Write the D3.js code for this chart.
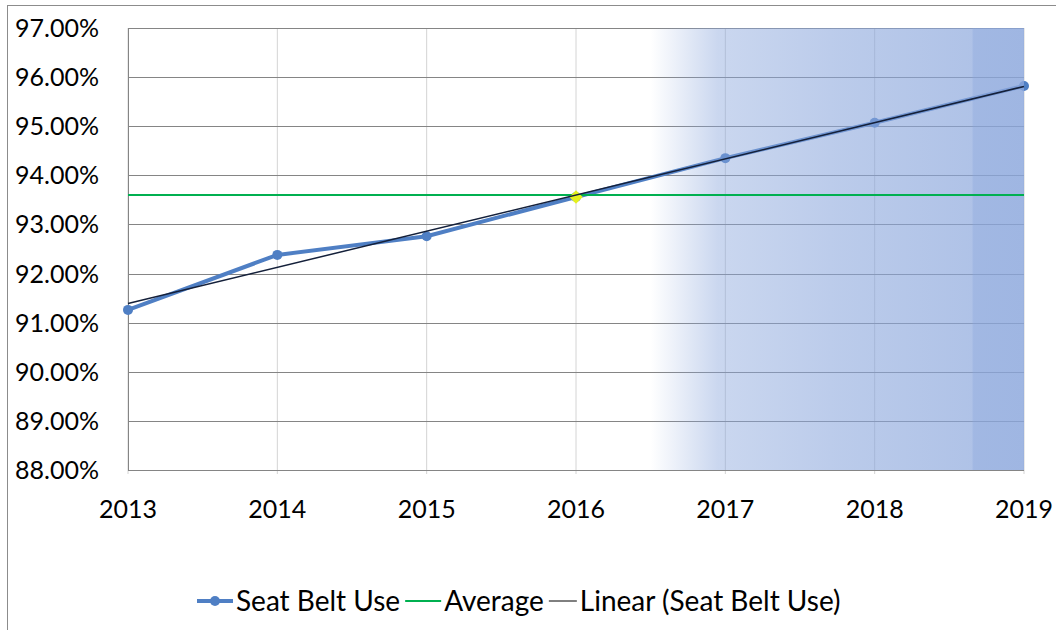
<!doctype html>
<html lang="en">
<head>
<meta charset="utf-8">
<title>Seat Belt Use</title>
<script src="https://d3js.org/d3.v7.min.js"></script>
<style>
  body { margin: 0; background: #fff; }
  text { font-family: Lato, "Open Sans", sans-serif; fill: #000; }
</style>
</head>
<body>
<div id="chart"></div>
<script>
// data
var years = [2013, 2014, 2015, 2016, 2017, 2018, 2019];
var seatBelt = [91.26, 92.38, 92.76, 93.56, 94.35, 95.07, 95.82];
var average = 93.60;
var trendYears = [2013, 2019];
var trendValues = [91.39, 95.81];
var yTicks = [88, 89, 90, 91, 92, 93, 94, 95, 96, 97];
var highlightYear = 2016;
var shadeFrom = 2016.5, shadeTo = 2019;
var legendLabels = ["Seat Belt Use", "Average", "Linear (Seat Belt Use)"];

var W = 1056, H = 630;
var margin = {top: 28, right: 32, bottom: 160, left: 128};
var width = W - margin.left - margin.right,
    height = H - margin.top - margin.bottom;

var svg = d3.select("#chart").append("svg")
    .attr("width", W)
    .attr("height", H);

// outer chart border
svg.append("rect")
    .attr("x", 7.5).attr("y", 5.5)
    .attr("width", W + 10).attr("height", H + 10)
    .attr("fill", "none").attr("stroke", "#8c8c8c");

var g = svg.append("g")
    .attr("transform", "translate(" + margin.left + "," + margin.top + ")");

var x = d3.scaleLinear().domain([2013, 2019]).range([0, width]);
var y = d3.scaleLinear().domain([88, 97]).range([height, 0]);

// vertical grid
g.append("g").selectAll("line")
  .data(years)
  .enter().append("line")
    .attr("x1", function(d) { return x(d); })
    .attr("x2", function(d) { return x(d); })
    .attr("y1", 0).attr("y2", height + 4)
    .attr("stroke", "#d4d4d4");

// horizontal grid
g.append("g").selectAll("line")
  .data(yTicks)
  .enter().append("line")
    .attr("x1", 0).attr("x2", width)
    .attr("y1", function(d) { return Math.round(y(d)) + 0.5; })
    .attr("y2", function(d) { return Math.round(y(d)) + 0.5; })
    .attr("stroke", "#858585");

// left axis line
g.append("line")
  .attr("x1", 0.5).attr("x2", 0.5)
  .attr("y1", 0).attr("y2", height)
  .attr("stroke", "#858585");

// series
var line = d3.line()
  .x(function(d, i) { return x(years[i]); })
  .y(function(d) { return y(d); });

g.append("path")
  .datum(seatBelt)
  .attr("d", line)
  .attr("fill", "none")
  .attr("stroke", "#4f7fc4")
  .attr("stroke-width", 4)
  .attr("stroke-linejoin", "round");

g.append("g").selectAll("circle")
  .data(seatBelt)
  .enter().append("circle")
    .attr("cx", function(d, i) { return x(years[i]); })
    .attr("cy", function(d) { return y(d); })
    .attr("r", 5)
    .attr("fill", "#4f7fc4");

// shaded forecast region
var defs = svg.append("defs");
var grad = defs.append("linearGradient").attr("id", "shade")
  .attr("x1", "0").attr("x2", "1").attr("y1", "0").attr("y2", "0");
[[0, 0], [0.18, 0.45], [0.5, 0.58], [0.86, 0.68], [0.865, 0.8], [1, 0.82]].forEach(function(s) {
  grad.append("stop").attr("offset", s[0])
    .attr("stop-color", "#8aa6dc").attr("stop-opacity", s[1]);
});

g.append("rect")
  .attr("x", x(shadeFrom))
  .attr("y", 0)
  .attr("width", x(shadeTo) - x(shadeFrom))
  .attr("height", height)
  .attr("fill", "url(#shade)");

// average
g.append("line")
  .attr("x1", 0).attr("x2", width)
  .attr("y1", y(average)).attr("y2", y(average))
  .attr("stroke", "#00b050")
  .attr("stroke-width", 2);

// highlighted point
var hi = years.indexOf(highlightYear);
g.append("path")
  .attr("d", d3.symbol().type(d3.symbolSquare).size(90)())
  .attr("transform", "translate(" + x(highlightYear) + "," + y(seatBelt[hi]) + ") rotate(45)")
  .attr("fill", "#e4f01c");

// trend
g.append("line")
  .attr("x1", x(trendYears[0])).attr("x2", x(trendYears[1]))
  .attr("y1", y(trendValues[0])).attr("y2", y(trendValues[1]))
  .attr("stroke", "#14203a")
  .attr("stroke-width", 1.5);

// y labels
g.append("g").selectAll("text")
  .data(yTicks)
  .enter().append("text")
    .attr("x", -29)
    .attr("y", function(d) { return y(d); })
    .attr("dy", "0.36em")
    .attr("text-anchor", "end")
    .style("font-size", "25px")
    .text(function(d) { return d3.format(".2f")(d) + "%"; });

// x labels
g.append("g").selectAll("text")
  .data(years)
  .enter().append("text")
    .attr("x", function(d) { return x(d); })
    .attr("y", height + 48)
    .attr("text-anchor", "middle")
    .style("font-size", "25px")
    .text(function(d) { return d; });

// legend
var legend = svg.append("g").attr("transform", "translate(197,601)");
var colors = ["#4f7fc4", "#00b050", "#000"];
var swatchW = [36, 36, 28];
var cx = 0;
legendLabels.forEach(function(lbl, i) {
  legend.append("line")
    .attr("x1", cx).attr("x2", cx + swatchW[i])
    .attr("y1", 0).attr("y2", 0)
    .attr("stroke", colors[i])
    .attr("stroke-width", i == 0 ? 4 : (i == 1 ? 2 : 1));
  if (i == 0) {
    legend.append("circle").attr("cx", cx + swatchW[i] / 2).attr("cy", 0)
      .attr("r", 5).attr("fill", colors[i]);
  }
  cx += swatchW[i] + 3;
  var t = legend.append("text")
    .attr("x", cx).attr("y", 0).attr("dy", "0.36em")
    .style("font-size", "28px")
    .text(lbl);
  cx += t.node().getComputedTextLength() + 5;
});
</script>
</body>
</html>
